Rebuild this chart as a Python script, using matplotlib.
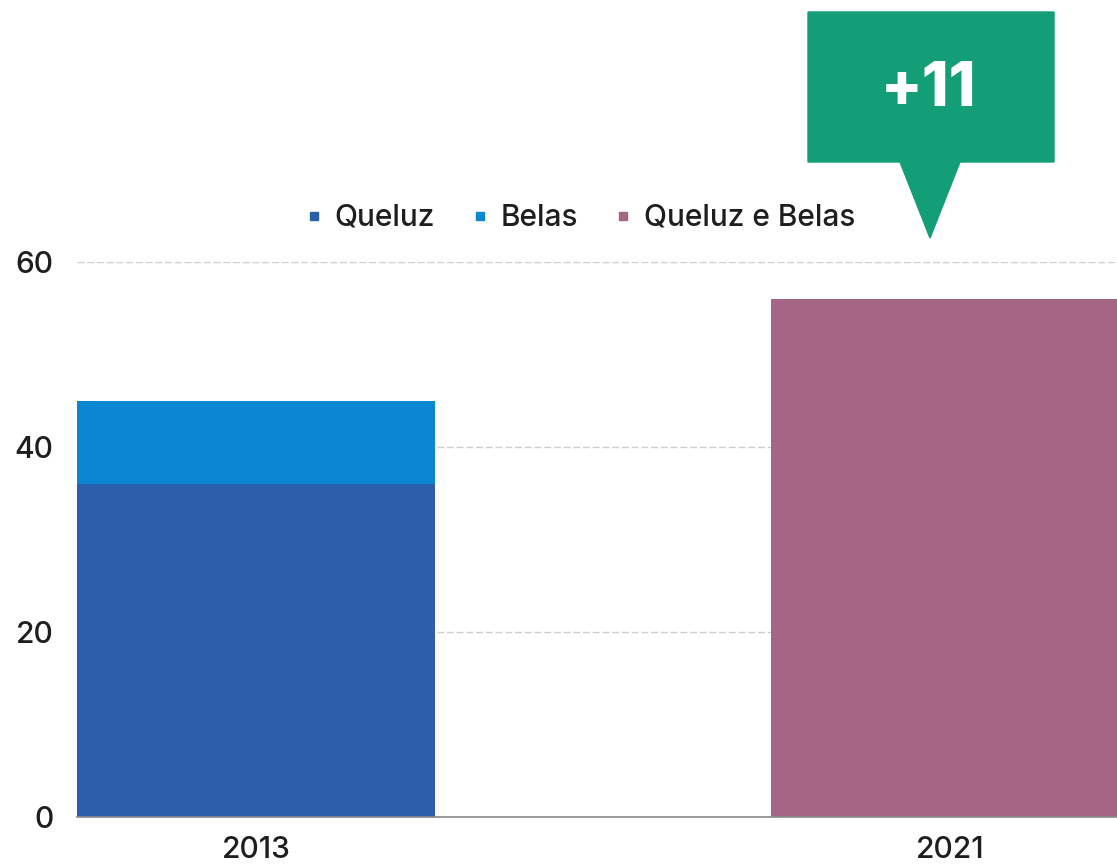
import numpy as np
import matplotlib.pyplot as plt
from matplotlib.patches import Polygon
from matplotlib.lines import Line2D

plt.rcParams['font.family'] = ['Inter', 'DejaVu Sans']
plt.rcParams['font.weight'] = 'medium'

years = ['2013', '2021']
queluz = [36, 0]
belas = [9, 0]
queluz_belas = [0, 56]
series_names = ['Queluz', 'Belas', 'Queluz e Belas']
colors = ['#2b5fa9', '#0b86d1', '#a66585']

fig = plt.figure(figsize=(11.17, 8.65), dpi=100)
ax = fig.add_axes([77 / 1117, 1 - 817 / 865, 1 - 77 / 1117, (817 - 262) / 865])

x = np.arange(len(years))
w = 0.515
ax.bar(x, queluz, w, color=colors[0], zorder=3)
ax.bar(x, belas, w, bottom=queluz, color=colors[1], zorder=3)
ax.bar(x, queluz_belas, w, color=colors[2], zorder=3)

ax.set_xlim(-w / 2, 1.24)
ax.set_ylim(0, 60)
ax.set_yticks([0, 20, 40, 60])
ax.set_xticks(x)
ax.set_xticklabels(years)
ax.tick_params(axis='both', length=0, labelsize=21.5, colors='#1e1e1e')
ax.tick_params(axis='y', pad=17)
ax.tick_params(axis='x', pad=14)
ax.yaxis.grid(True, color='#cfcfcf', linewidth=1.0, linestyle=(0, (5, 2)), zorder=0)
for s in ['top', 'right', 'left']:
    ax.spines[s].set_visible(False)
ax.spines['bottom'].set_color('#8a8a8a')
ax.spines['bottom'].set_linewidth(1.2)
ax.spines['bottom'].set_zorder(4)

handles = [Line2D([], [], marker='s', linestyle='none', color=c, markersize=6) for c in colors]
fig.legend(handles, series_names, loc='center', bbox_to_anchor=(0.518, 0.748), ncol=3,
           frameon=False, fontsize=21.5, handletextpad=0.3, columnspacing=1.1, handlelength=0.8,
           labelcolor='#1e1e1e')

# callout with the change
diff = queluz_belas[1] - (queluz[0] + belas[0])
W, H = 1117, 865
box = [(808, 12), (1054, 12), (1054, 162), (960, 162), (930, 238), (900, 162), (808, 162)]
box = [(px / W, 1 - py / H) for px, py in box]
fig.patches.append(Polygon(box, closed=True, transform=fig.transFigure, color='#149e78', zorder=5))
fig.text(928 / W, 1 - 90 / H, '+%d' % diff, ha='center', va='center', color='white',
         fontsize=44, fontweight='heavy', zorder=6)

fig.savefig('out.png', dpi=100)
